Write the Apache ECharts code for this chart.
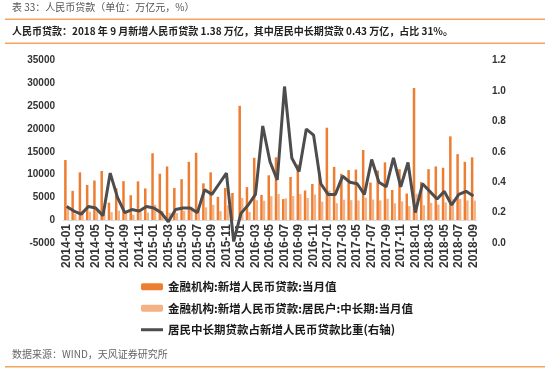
<!DOCTYPE html>
<html>
<head>
<meta charset="utf-8">
<script src="https://cdn.jsdelivr.net/npm/echarts@6/dist/echarts.min.js"></script>
<style>
  html, body { margin: 0; padding: 0; background: #fff; }
  #chart { width: 550px; height: 376px; }
</style>
</head>
<body>
<div id="chart"></div>
<script>
// months 2014-01 .. 2018-09
const months = [];
for (let y = 2014; y <= 2018; y++) {
  for (let m = 1; m <= 12; m++) {
    if (y === 2018 && m > 9) break;
    months.push(y + '-' + (m < 10 ? '0' + m : m));
  }
}

// 新增人民币贷款 (亿元)
const totalLoans = [
  13200, 6445, 10500, 7747, 8708, 10800, 3852, 7025, 8572, 5483, 8527, 6973,
  14700, 10200, 11800, 7079, 9008, 12800, 14800, 8096, 10500, 5136, 7089, 5978,
  25100, 7266, 13700, 5556, 9855, 13800, 4636, 9487, 12200, 6513, 7946, 10400,
  20300, 11700, 10200, 11000, 11100, 15400, 8255, 10900, 12700, 6632, 11200, 5844,
  29000, 8393, 11200, 11800, 11500, 18400, 14500, 12800, 13800
];

// 居民户中长期 (亿元)
const householdLoans = [
  3170, 1350, 2000, 1860, 2000, 1940, 1770, 2110, 1710, 1210, 1790, 1670,
  3380, 2040, 1650, 1560, 2070, 2940, 2960, 2830, 3360, 2000, 3260, 60,
  4890, 1820, 4380, 4280, 5270, 5730, 4780, 5310, 5730, 4880, 5640, 4060,
  6500, 3740, 4490, 4400, 4330, 4930, 4540, 4360, 4700, 3710, 4140, 3100,
  5800, 3270, 3810, 3420, 3910, 4600, 4640, 4350, 4300
];

// 比重 (右轴)
const ratio = [
  0.24, 0.21, 0.19, 0.24, 0.23, 0.18, 0.46, 0.30, 0.20, 0.22, 0.21, 0.24,
  0.23, 0.20, 0.14, 0.22, 0.23, 0.23, 0.20, 0.35, 0.32, 0.39, 0.46, 0.01,
  0.195, 0.25, 0.32, 0.77, 0.535, 0.415, 1.03, 0.56, 0.47, 0.75, 0.71, 0.39,
  0.32, 0.32, 0.44, 0.40, 0.39, 0.32, 0.55, 0.40, 0.37, 0.56, 0.37, 0.53,
  0.20, 0.39, 0.34, 0.29, 0.34, 0.25, 0.32, 0.34, 0.31
];

const seriesNames = [
  '金融机构:新增人民币贷款:当月值',
  '金融机构:新增人民币贷款:居民户:中长期:当月值',
  '居民中长期贷款占新增人民币贷款比重(右轴)'
];

const chart = echarts.init(document.getElementById('chart'));
const accent = '#F2A65A';
const latin = 'Liberation Sans, Arial, Noto Sans CJK SC, sans-serif';
const cjk = 'Noto Sans CJK SC, sans-serif';

chart.setOption({
  animation: false,
  backgroundColor: '#fff',
  graphic: [
    { type: 'text', left: 12, top: 2, style: { text: '表 33：人民币贷款（单位：万亿元，%）', fill: '#555', font: '10px ' + cjk } },
    { type: 'rect', shape: { x: 5, y: 18.5, width: 540, height: 1.5 }, style: { fill: accent } },
    { type: 'text', left: 12, top: 26, style: { text: '人民币贷款：2018 年 9 月新增人民币贷款 1.38 万亿，其中居民中长期贷款 0.43 万亿，占比 31%。', fill: '#222', font: 'bold 10px ' + cjk } },
    { type: 'rect', shape: { x: 5, y: 42.5, width: 540, height: 1.5 }, style: { fill: accent } },
    { type: 'text', left: 12, top: 349, style: { text: '数据来源：WIND，天风证券研究所', fill: '#666', font: '10px ' + cjk } },
    { type: 'rect', shape: { x: 5, y: 366, width: 540, height: 1.5 }, style: { fill: accent } }
  ],
  grid: { left: 63, right: 73, top: 60.7, bottom: 133, containLabel: false },
  legend: {
    orient: 'vertical',
    left: 136,
    top: 276,
    itemWidth: 22,
    itemHeight: 7,
    itemGap: 10,
    textStyle: { fontFamily: cjk, fontWeight: 'bold', fontSize: 11.5, color: '#1a1a1a' },
    data: [
      { name: seriesNames[0] },
      { name: seriesNames[1] },
      { name: seriesNames[2], icon: 'path://M0,0 H22 V3 H0 Z' }
    ]
  },
  xAxis: {
    type: 'category',
    data: months,
    axisLine: { show: false, onZero: false },
    axisTick: { show: false },
    axisLabel: {
      rotate: 90, interval: 1, margin: -19,
      fontFamily: latin, fontWeight: 'bold', fontSize: 12, color: '#333'
    }
  },
  yAxis: [
    {
      type: 'value', min: -5000, max: 35000, interval: 5000,
      splitLine: { show: false }, axisLine: { show: false }, axisTick: { show: false },
      axisLabel: {
        margin: 8, fontFamily: latin, fontWeight: 'bold', fontSize: 10, color: '#333',
        formatter: v => String(v)
      }
    },
    {
      type: 'value', min: 0, max: 1.2, interval: 0.2,
      splitLine: { show: false }, axisLine: { show: false }, axisTick: { show: false },
      axisLabel: {
        margin: 15, fontFamily: latin, fontWeight: 'bold', fontSize: 10, color: '#333',
        formatter: v => v.toFixed(1)
      }
    }
  ],
  series: [
    {
      name: seriesNames[0], type: 'bar', data: totalLoans,
      barWidth: 2.5, barGap: '0%',
      itemStyle: { color: '#ED7D31' },
      markLine: {
        silent: true, symbol: 'none', label: { show: false },
        lineStyle: { color: '#D9D9D9', width: 1, type: 'solid' },
        data: [{ yAxis: 0 }]
      }
    },
    {
      name: seriesNames[1], type: 'bar', data: householdLoans,
      barWidth: 2.5, barGap: '0%',
      itemStyle: { color: '#F4B183' }
    },
    {
      name: seriesNames[2], type: 'line', yAxisIndex: 1, data: ratio,
      symbol: 'none', z: 5,
      lineStyle: { color: '#4D4D4D', width: 3 },
      itemStyle: { color: '#4D4D4D' }
    }
  ]
});
</script>
</body>
</html>
